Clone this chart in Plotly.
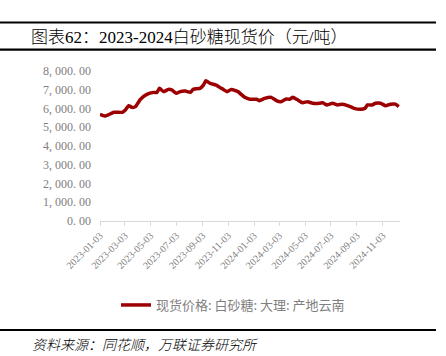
import plotly.graph_objects as go

dates = ["2023-01-03", "2023-01-16", "2023-02-05", "2023-02-25", "2023-03-04", "2023-03-12",
         "2023-03-20", "2023-03-28", "2023-04-09", "2023-04-24", "2023-05-10", "2023-05-18",
         "2023-05-24", "2023-06-03", "2023-06-14", "2023-06-22", "2023-07-03", "2023-07-12",
         "2023-07-24", "2023-08-05", "2023-08-12", "2023-08-28", "2023-09-05", "2023-09-11",
         "2023-09-21", "2023-10-05", "2023-10-22", "2023-10-31", "2023-11-11", "2023-11-26",
         "2023-12-12", "2023-12-24", "2024-01-09", "2024-01-16", "2024-01-28", "2024-02-13",
         "2024-02-25", "2024-03-07", "2024-03-19", "2024-03-27", "2024-04-04", "2024-04-16",
         "2024-04-27", "2024-05-09", "2024-05-21", "2024-06-06", "2024-06-14", "2024-06-23",
         "2024-07-07", "2024-07-19", "2024-07-31", "2024-08-15", "2024-08-27", "2024-09-12",
         "2024-09-22", "2024-09-28", "2024-10-09", "2024-10-17", "2024-10-29", "2024-11-10",
         "2024-11-21", "2024-12-03", "2024-12-11"]
prices = [5690, 5600, 5797, 5797, 5920, 6150,
          6060, 6100, 6490, 6755, 6860, 6860,
          7075, 6900, 7020, 6990, 6810, 6900,
          6930, 6860, 7020, 7075, 7250, 7485,
          7340, 7250, 7020, 6900, 7020, 6900,
          6595, 6490, 6490, 6420, 6540, 6595,
          6420, 6365, 6510, 6490, 6595, 6450,
          6310, 6365, 6280, 6280, 6310, 6190,
          6280, 6190, 6230, 6130, 6010, 5955,
          6010, 6190, 6190, 6280, 6280, 6150,
          6230, 6230, 6100]

tick_dates = ["2023-01-03", "2023-03-03", "2023-05-03", "2023-07-03", "2023-09-03", "2023-11-03",
              "2024-01-03", "2024-03-03", "2024-05-03", "2024-07-03", "2024-09-03", "2024-11-03"]
y_vals = [0, 1000, 2000, 3000, 4000, 5000, 6000, 7000, 8000]
y_text = ["0. 00", "1, 000. 00", "2, 000. 00", "3, 000. 00", "4, 000. 00",
          "5, 000. 00", "6, 000. 00", "7, 000. 00", "8, 000. 00"]

series_name = "现货价格: 白砂糖: 大理: 产地云南"
title_text = "图表62：2023-2024白砂糖现货价（元/吨）"
source_text = "资料来源：同花顺，万联证券研究所"

FONT = "Liberation Serif, Noto Sans CJK SC, serif"
GRAY = "#808080"

fig = go.Figure()
fig.add_trace(go.Scatter(x=dates, y=prices, mode="lines", name=series_name,
                         line=dict(color="#9c0000", width=3.5, shape="spline", smoothing=0.4)))

W, H = 446, 356
L, R, T, B = 100, 46, 71, 135
pw, ph = W - L - R, H - T - B

def px(x):
    return (x - L) / pw

def py(y):
    return (H - B - y) / ph

fig.update_layout(
    width=W, height=H,
    margin=dict(l=L, r=R, t=T, b=B),
    paper_bgcolor="white", plot_bgcolor="white",
    font=dict(family=FONT, color=GRAY, size=11),
    showlegend=True,
    legend=dict(orientation="h", x=px(116), y=py(305), xanchor="left", yanchor="middle",
                font=dict(size=13, color=GRAY, family="Noto Sans CJK SC"),
                bgcolor="rgba(0,0,0,0)", itemwidth=30),
    xaxis=dict(type="date", range=["2023-01-03", "2024-12-14"],
               tickvals=tick_dates, ticktext=tick_dates, tickangle=-45,
               tickfont=dict(size=10, color=GRAY, family=FONT),
               showgrid=False, showline=True, linecolor="#d9d9d9", linewidth=1,
               ticks="outside", ticklen=4, tickcolor="#d9d9d9", zeroline=False),
    yaxis=dict(range=[0, 8000], tickvals=y_vals, ticktext=y_text,
               tickfont=dict(size=12, color=GRAY, family=FONT),
               showgrid=False, showline=False, zeroline=False, ticks="", ticklabelstandoff=8),
)

shapes = []
for yy in (22.5, 49.7, 330):
    shapes.append(dict(type="line", xref="paper", yref="paper", x0=px(0), x1=px(436),
                       y0=py(yy), y1=py(yy), line=dict(color="black", width=2.2)))
fig.update_layout(shapes=shapes)

fig.add_annotation(text=title_text, xref="paper", yref="paper", x=px(29), y=py(37),
                   xanchor="left", yanchor="middle", showarrow=False,
                   font=dict(size=17, color="black", family=FONT, weight=300))
fig.add_annotation(text="<i>" + source_text + "</i>", xref="paper", yref="paper", x=px(30), y=py(344),
                   xanchor="left", yanchor="middle", showarrow=False,
                   font=dict(size=14, color="black", family="Noto Sans CJK SC", weight=300))

fig.write_html("out.html", config={"displayModeBar": False},
               post_script="document.body.style.margin='0';document.body.style.overflow='hidden';")
